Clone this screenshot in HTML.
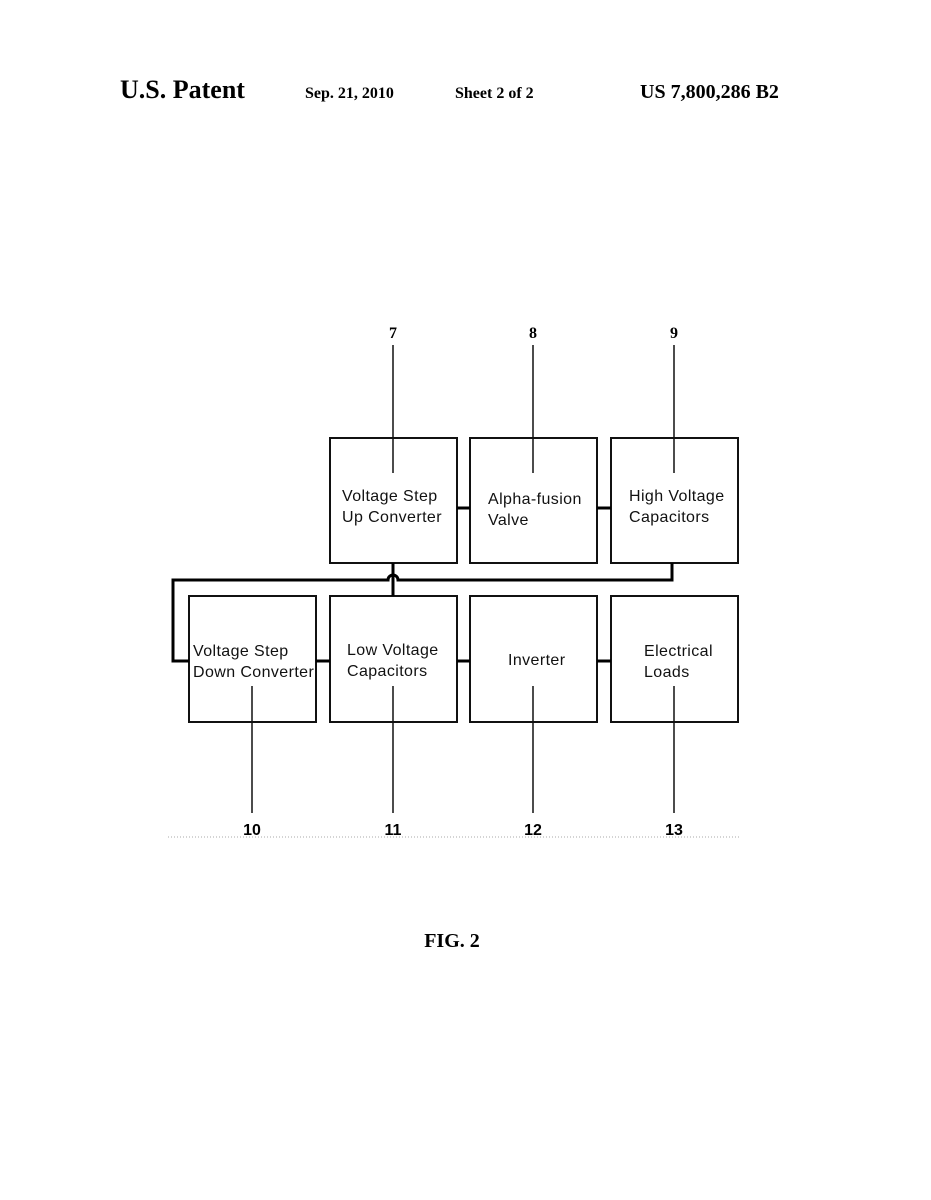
<!DOCTYPE html>
<html><head><style>
html,body{margin:0;padding:0;background:#fff;}
svg{display:block;}
.h{font-family:"Liberation Serif",serif;font-weight:bold;fill:#000;}
.t{font-family:"Liberation Sans",sans-serif;font-size:16px;letter-spacing:0.4px;fill:#111;}
.n{font-family:"Liberation Sans",sans-serif;font-weight:bold;font-size:16px;fill:#000;text-anchor:middle;}
.s{font-family:"Liberation Serif",serif;font-weight:bold;font-size:16px;fill:#000;text-anchor:middle;}
</style></head><body>
<svg width="931" height="1200" viewBox="0 0 931 1200" xmlns="http://www.w3.org/2000/svg">
<text class="h" x="120" y="98" font-size="26">U.S. Patent</text>
<text class="h" x="305" y="98" font-size="16">Sep. 21, 2010</text>
<text class="h" x="455" y="98" font-size="16">Sheet 2 of 2</text>
<text class="h" x="640" y="98" font-size="20">US 7,800,286 B2</text>

<g fill="none" stroke="#111" stroke-width="2">
<rect x="330" y="438" width="127" height="125"/>
<rect x="470" y="438" width="127" height="125"/>
<rect x="611" y="438" width="127" height="125"/>
<rect x="189" y="596" width="127" height="126"/>
<rect x="330" y="596" width="127" height="126"/>
<rect x="470" y="596" width="127" height="126"/>
<rect x="611" y="596" width="127" height="126"/>
</g>
<g stroke="#111" stroke-width="1.5">
<line x1="393" y1="345" x2="393" y2="473"/>
<line x1="533" y1="345" x2="533" y2="473"/>
<line x1="674" y1="345" x2="674" y2="473"/>
<line x1="252" y1="686" x2="252" y2="813"/>
<line x1="393" y1="686" x2="393" y2="813"/>
<line x1="533" y1="686" x2="533" y2="813"/>
<line x1="674" y1="686" x2="674" y2="813"/>
</g>
<g stroke="#000" stroke-width="3" fill="none">
<line x1="457" y1="508" x2="470" y2="508"/>
<line x1="597" y1="508" x2="611" y2="508"/>
<line x1="316" y1="661" x2="330" y2="661"/>
<line x1="457" y1="661" x2="470" y2="661"/>
<line x1="597" y1="661" x2="611" y2="661"/>
<line x1="393" y1="563" x2="393" y2="596"/>
<path d="M189 661 H173 V580 H388 A5 5 0 0 1 398 580 H672 V563"/>
</g>
<text class="t" x="342" y="501">Voltage Step</text>
<text class="t" x="342" y="522">Up Converter</text>
<text class="t" x="488" y="504">Alpha-fusion</text>
<text class="t" x="488" y="525">Valve</text>
<text class="t" x="629" y="501">High Voltage</text>
<text class="t" x="629" y="522">Capacitors</text>
<text class="t" x="193" y="656">Voltage Step</text>
<text class="t" x="193" y="677">Down Converter</text>
<text class="t" x="347" y="655">Low Voltage</text>
<text class="t" x="347" y="676">Capacitors</text>
<text class="t" x="508" y="665">Inverter</text>
<text class="t" x="644" y="656">Electrical</text>
<text class="t" x="644" y="677">Loads</text>

<text class="s" x="393" y="338">7</text>
<text class="s" x="533" y="338">8</text>
<text class="s" x="674" y="338">9</text>
<text class="n" x="252" y="835">10</text>
<text class="n" x="393" y="835">11</text>
<text class="n" x="533" y="835">12</text>
<text class="n" x="674" y="835">13</text>
<line x1="168" y1="837" x2="740" y2="837" stroke="#aaa" stroke-width="1" stroke-dasharray="1,2"/>
<text class="h" x="452" y="947" font-size="20" text-anchor="middle">FIG. 2</text>
</svg>
</body></html>
